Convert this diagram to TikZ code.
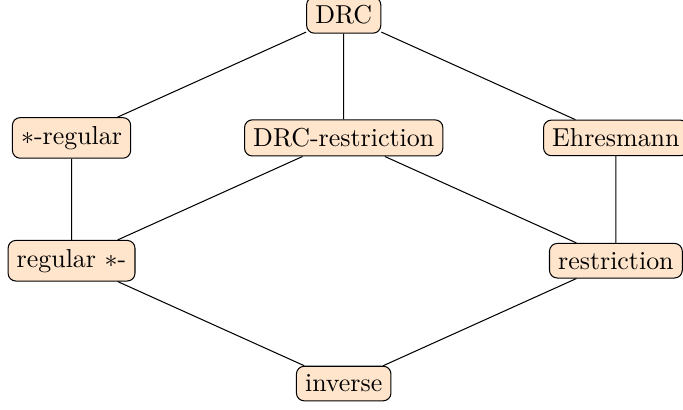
\documentclass[tikz,border=0pt]{standalone}
\usepackage{amssymb}
\usepackage{tikz}
\usepackage{xcolor}
\usetikzlibrary{positioning}

\begin{document}
\begin{tikzpicture}[x=3.69cm, y=1.665cm,
    semi/.style={draw, rounded corners=3pt, fill=orange!20}]
                        \useasboundingbox (-4.66cm, -0.35cm) rectangle (4.60cm, 5.20cm);
                        \node[semi] (inv) at (0, 0) {inverse};
                        \node[semi] (regstar) at (-1, 1) {regular $*$-};
                        \node[semi] (restr) at (1, 1) {restriction};
                        \node[semi] (starreg) at (-1, 2) {$*$-regular};
                        \node[semi] (drcrestr) at (0, 2) {DRC-restriction};
                        \node[semi] (ehr) at (1, 2) {Ehresmann};
                        \node[semi] (drc) at (0, 3) {DRC};
                        \draw
                        (inv) -- (regstar)
                        (inv) -- (restr)
                        (regstar) -- (starreg)
                        (regstar) -- (drcrestr)
                        (restr) -- (drcrestr)
                        (restr) -- (ehr)
                        (starreg) -- (drc)
                        (drcrestr) -- (drc)
                        (ehr) -- (drc);
                    \end{tikzpicture}
\end{document}
